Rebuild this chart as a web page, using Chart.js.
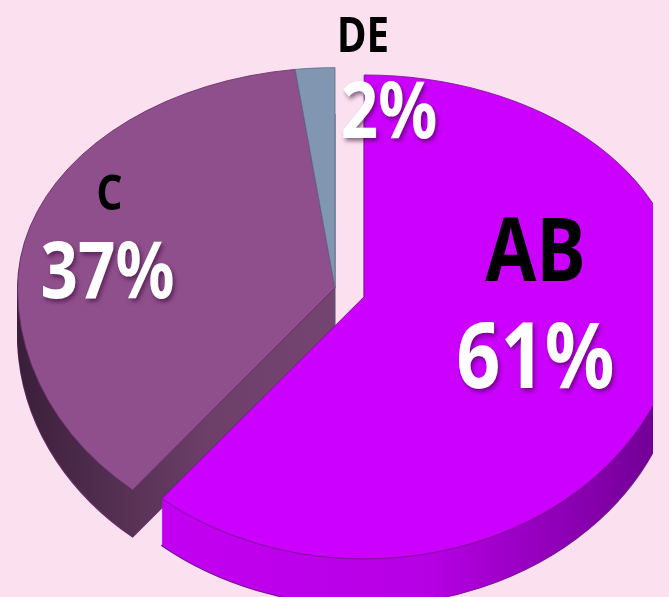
<!DOCTYPE html>
<html>
<head>
<meta charset="utf-8">
<script src="https://cdn.jsdelivr.net/npm/chart.js@4.4.0/dist/chart.umd.min.js"></script>
<style>
    html, body { margin: 0; padding: 0; background: #fbe1ef; }
    #wrap { position: relative; width: 669px; height: 597px; overflow: hidden; background: #fbe1ef; }
    #pie { position: absolute; left: 17px; top: -30px; }
</style>
</head>
<body>
<div id="wrap"><canvas id="pie" width="636" height="636"></canvas></div>
<script>
const labels = ['AB', 'C', 'DE'];
const shares = [61, 37, 2];
const topColors = ['#cc00ff', '#8f4f8c', '#8196b0'];
const edgeColors = ['#7a1390', '#6a2c68', '#5d6f8a'];
const explode = [31, 0, 0];

// side (rim) shading, left to right
const sideStops = [
    [[0, '#c800f7'], [0.6, '#b600e4'], [1, '#6a008c']],
    [[0, '#3a1f39'], [0.3, '#6c3f69'], [1, '#8a5386']],
    [[0, '#6c7e99'], [1, '#71839e']]
];

// back half is squashed more than the front half, a cheap perspective
const tiltTop = 0.694;
const tiltBottom = 0.826;
const depth = 47;    // thickness of the rim in px

// text placement per slice: [angle in degrees, fraction of radius]
const namePos = [[-21.0, 0.578], [-148.7, 0.831], [-85.6, 1.154]];
const pctPos = [[22.4, 0.583], [-173.5, 0.721], [-78.1, 0.827]];
const nameSize = [88, 48, 48];
const pctSize = [92, 78, 78];
const fontFamily = '"Noto Sans", "Open Sans", sans-serif';

function pieCenter(chart) {
    const a = chart.chartArea;
    return { x: (a.left + a.right) / 2, y: (a.top + a.bottom) / 2 };
}

function withTilt(ctx, c, shift, paint) {
    [[tiltTop, true], [tiltBottom, false]].forEach(([t, back]) => {
        ctx.save();
        ctx.beginPath();
        if (back) ctx.rect(-5000, -5000, 10000, 5000 + c.y + shift);
        else ctx.rect(-5000, c.y + shift, 10000, 5000);
        ctx.clip();
        ctx.translate(0, shift);
        ctx.translate(c.x, c.y);
        ctx.scale(1, t);
        ctx.translate(-c.x, -c.y);
        paint();
        ctx.restore();
    });
}

function sectorPath(ctx, arc) {
    ctx.beginPath();
    ctx.moveTo(arc.x, arc.y);
    ctx.arc(arc.x, arc.y, arc.outerRadius, arc.startAngle, arc.endAngle);
    ctx.closePath();
}

const pie3d = {
    id: 'pie3d',
    afterDatasetsUpdate(chart) {
        // pull exploded slices out along their middle angle
        chart.getDatasetMeta(0).data.forEach((arc, i) => {
            const half = (arc.startAngle + arc.endAngle) / 2;
            arc.x += Math.cos(half) * explode[i];
            arc.y += Math.sin(half) * explode[i];
        });
    },
    beforeDatasetsDraw(chart) {
        const ctx = chart.ctx;
        const meta = chart.getDatasetMeta(0);
        const arcs = meta.data;
        const c = pieCenter(chart);
        const fills = arcs.map((arc, i) => {
            const g = ctx.createLinearGradient(arc.x - arc.outerRadius, 0, arc.x + arc.outerRadius, 0);
            sideStops[i].forEach(s => g.addColorStop(s[0], s[1]));
            return g;
        });
        // rim: stacked copies of the slices, deepest first
        for (let d = depth; d > 0; d--) {
            withTilt(ctx, c, d, () => {
                arcs.forEach((arc, i) => {
                    sectorPath(ctx, arc);
                    ctx.fillStyle = fills[i];
                    ctx.fill();
                    if (d === depth) {
                        ctx.save();
                        ctx.setTransform(1, 0, 0, 1, 0, 0);
                        ctx.lineWidth = 1.2;
                        ctx.strokeStyle = edgeColors[i];
                        ctx.stroke();
                        ctx.restore();
                    }
                });
            });
        }
        // top faces, drawn by the pie controller itself
        withTilt(ctx, c, 0, () => meta.controller.draw());
        return false;
    },
    afterDraw(chart) {
        const ctx = chart.ctx;
        const c = pieCenter(chart);
        const arcs = chart.getDatasetMeta(0).data;
        const total = shares.reduce((a, b) => a + b, 0);
        arcs.forEach((arc, i) => {
            drawText(ctx, c, arc, namePos[i], labels[i], nameSize[i], '#000000', false);
            const pct = Math.round(shares[i] / total * 100) + '%';
            drawText(ctx, c, arc, pctPos[i], pct, pctSize[i], '#ffffff', true);
        });
    }
};

function drawText(ctx, c, arc, pos, text, size, color, shadow) {
    const a = pos[0] * Math.PI / 180;
    const r = pos[1] * arc.outerRadius;
    const x = arc.x + Math.cos(a) * r;
    const Y = arc.y + Math.sin(a) * r;
    const y = c.y + (Y - c.y) * (Y < c.y ? tiltTop : tiltBottom);
    ctx.save();
    ctx.translate(x, y + size * 0.357);
    ctx.scale(0.84, 1);
    ctx.font = 'bold ' + size + 'px ' + fontFamily;
    ctx.textAlign = 'center';
    ctx.textBaseline = 'alphabetic';
    if (shadow) {
        ctx.shadowColor = 'rgba(50, 0, 50, 0.55)';
        ctx.shadowOffsetX = 2;
        ctx.shadowOffsetY = 3;
        ctx.shadowBlur = 4;
    }
    ctx.fillStyle = color;
    ctx.fillText(text, 0, 0);
    ctx.restore();
}

new Chart(document.getElementById('pie'), {
    type: 'pie',
    data: {
        labels: labels,
        datasets: [{
            data: shares,
            backgroundColor: topColors,
            borderColor: edgeColors,
            borderWidth: 1,
            clip: false
        }]
    },
    options: {
        responsive: false,
        devicePixelRatio: 1,
        animation: false,
        events: [],
        layout: { padding: 0 },
        plugins: {
            legend: { display: false },
            tooltip: { enabled: false }
        }
    },
    plugins: [pie3d]
});
</script>
</body>
</html>
